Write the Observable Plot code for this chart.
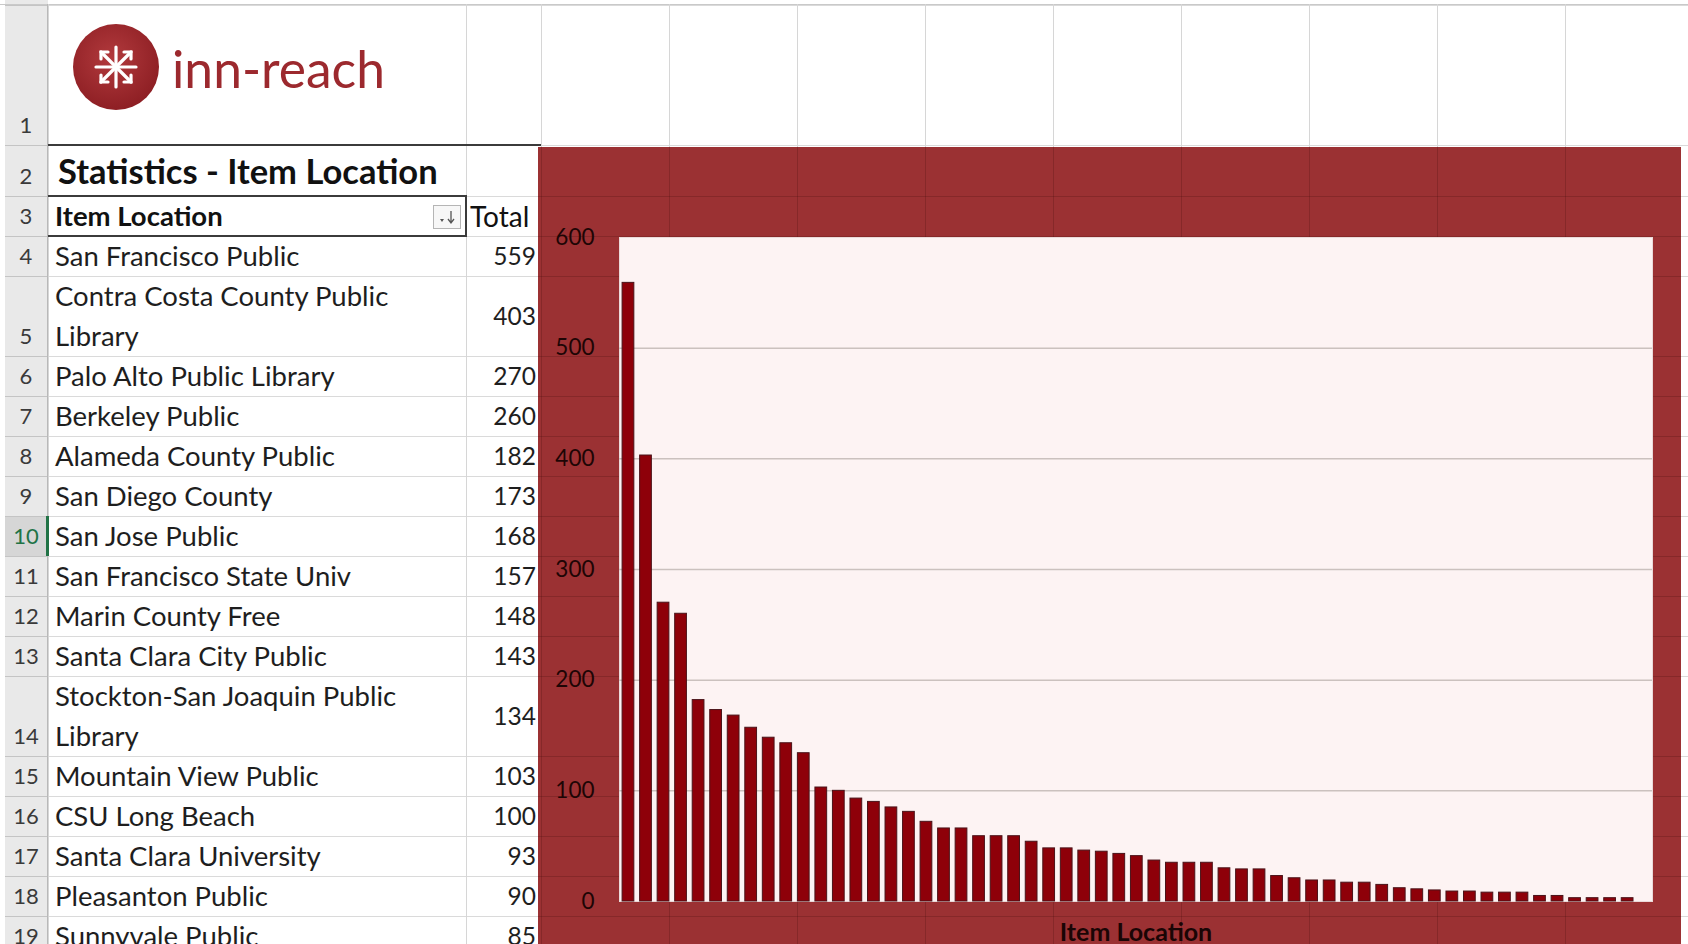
<!DOCTYPE html>
<html>
<head>
<meta charset="utf-8">
<script src="https://cdn.jsdelivr.net/npm/d3@7"></script>
<script src="https://cdn.jsdelivr.net/npm/@observablehq/plot@0.6"></script>
<style>
  html, body { margin: 0; padding: 0; background: #fff; width: 1688px; height: 944px; overflow: hidden; }
  body { position: relative; font-family: Lato, "Open Sans", sans-serif; }
  .abs { position: absolute; box-sizing: border-box; }
  .cell { position: absolute; box-sizing: border-box; display: flex; align-items: center; color: #1e1e1e; font-size: 27.5px; line-height: 40px; }
  .rownum { position: absolute; box-sizing: border-box; display: flex; align-items: flex-end; justify-content: center; color: #3a3a3a; font-size: 22px; padding-bottom: 7px; }
  #chart { position: absolute; left: 538px; top: 147px; width: 1143px; height: 797px; background: #9b3133; overflow: hidden; }
  #chart svg { position: absolute; left: 0; top: 0; }
</style>
</head>
<body>
<div id="sheet"></div>
<div id="chart"></div>
<script>
// ---------------- data ----------------
const sheetTitle = "Statistics - Item Location";
const headerName = "Item Location";
const headerTotal = "Total";
const xTitle = "Item Location";
const logoText = "inn-reach";
const locations = [
  "San Francisco Public",
  "Contra Costa County Public Library",
  "Palo Alto Public Library",
  "Berkeley Public",
  "Alameda County Public",
  "San Diego County",
  "San Jose Public",
  "San Francisco State Univ",
  "Marin County Free",
  "Santa Clara City Public",
  "Stockton-San Joaquin Public Library",
  "Mountain View Public",
  "CSU Long Beach",
  "Santa Clara University",
  "Pleasanton Public",
  "Sunnyvale Public"
];
const totals = [
  559, 403, 270, 260, 182, 173, 168, 157, 148, 143,
  134, 103, 100, 93, 90, 85, 81, 72, 66, 66,
  59, 59, 59, 54, 48, 48, 46, 45, 43, 41,
  37, 35, 35, 35, 30, 29, 29, 23, 21, 19,
  19, 17, 17, 15, 12, 11, 10, 9, 9, 8,
  8, 8, 5, 5, 3, 3, 3, 3
];
const ranks = totals.map((d, i) => i + 1);
const yTicks = [0, 100, 200, 300, 400, 500, 600];
const rowNumbers = [1,2,3,4,5,6,7,8,9,10,11,12,13,14,15,16,17,18,19];

// ---------------- sheet layout ----------------
const sheet = document.getElementById("sheet");
function add(parent, cls, style, text) {
  const e = document.createElement("div");
  e.className = cls;
  Object.assign(e.style, style);
  if (text != null) e.textContent = text;
  parent.appendChild(e);
  return e;
}
const rowHeights = [140, 51, 40, 40, 80, 40, 40, 40, 40, 40, 40, 40, 40, 80, 40, 40, 40, 40, 40];
const rowTops = [];
{ let y = 5; for (const h of rowHeights) { rowTops.push(y); y += h; } rowTops.push(y); }
const colX = [5, 48, 466, 541, 669, 797, 925, 1053, 1181, 1309, 1437, 1565, 1693];

// row header background
add(sheet, "abs", {left: "5px", top: "0px", width: "43px", height: "944px", background: "#e9e9e9"});
add(sheet, "abs", {left: "5px", top: rowTops[9] + "px", width: "43px", height: rowHeights[9] + "px", background: "#d6d6d6"});
// gridlines
add(sheet, "abs", {left: "0px", top: "4px", width: "1688px", height: "1px", background: "#c9c9c9"});
rowTops.forEach(y => {
  add(sheet, "abs", {left: "5px", top: y + "px", width: "43px", height: "1px", background: "#c4c4c4"});
  add(sheet, "abs", {left: "48px", top: y + "px", width: "1640px", height: "1px", background: "#dadada"});
});
colX.slice(1).forEach(x => {
  add(sheet, "abs", {left: x + "px", top: "4px", width: "1px", height: "940px", background: "#d6d6d6"});
});
add(sheet, "abs", {left: "47px", top: "4px", width: "1px", height: "940px", background: "#b8b8b8"});
add(sheet, "abs", {left: "46px", top: rowTops[9] + "px", width: "3px", height: rowHeights[9] + "px", background: "#217346"});

// row numbers
rowNumbers.forEach((n, i) => {
  const r = add(sheet, "rownum", {left: "5px", top: rowTops[i] + "px", width: "42px", height: rowHeights[i] + "px"}, String(n));
  if (n === 10) r.style.color = "#217346";
});

// title row
add(sheet, "cell", {left: "58px", top: rowTops[1] + "px", width: "480px", height: rowHeights[1] + "px", fontWeight: "bold", fontSize: "34.5px", color: "#111"}, sheetTitle);
// header row
add(sheet, "cell", {left: "55px", top: rowTops[2] + "px", width: "370px", height: rowHeights[2] + "px", fontWeight: "bold", fontSize: "27.5px", color: "#111"}, headerName);
add(sheet, "cell", {left: "470px", top: rowTops[2] + "px", width: "72px", height: rowHeights[2] + "px", fontSize: "28px", color: "#111"}, headerTotal);
// filter button
const fb = add(sheet, "abs", {left: "433px", top: "205px", width: "28px", height: "24px", background: "#f7f7f7", border: "1px solid #b5b5b5"});
fb.innerHTML = '<svg width="26" height="22"><path d="M6 13 L10 13 L8 16 Z" fill="#555"/><path d="M17 5 L17 16 M14 13 L17 17 L20 13" stroke="#555" stroke-width="1.3" fill="none"/></svg>';

// table borders
add(sheet, "abs", {left: "48px", top: "144px", width: "493px", height: "2px", background: "#3b3b3b"});
add(sheet, "abs", {left: "48px", top: "195px", width: "419px", height: "2px", background: "#3b3b3b"});
add(sheet, "abs", {left: "48px", top: "235px", width: "419px", height: "2px", background: "#3b3b3b"});
add(sheet, "abs", {left: "465px", top: "195px", width: "2px", height: "42px", background: "#3b3b3b"});

// data rows
locations.forEach((name, i) => {
  const r = i + 3;
  add(sheet, "cell", {left: "55px", top: rowTops[r] + "px", width: "405px", height: rowHeights[r] + "px", whiteSpace: "normal"}, name);
  add(sheet, "cell", {left: "466px", top: rowTops[r] + "px", width: "70px", height: rowHeights[r] + "px", justifyContent: "flex-end", fontSize: "24.5px"}, String(totals[i]));
});

// logo
const logo = add(sheet, "abs", {left: "60px", top: "15px", width: "360px", height: "110px"});
logo.innerHTML = `
<svg width="360" height="110">
  <defs>
    <radialGradient id="lg" cx="45%" cy="40%" r="60%">
      <stop offset="0%" stop-color="#b23a3d"/>
      <stop offset="100%" stop-color="#8e1f24"/>
    </radialGradient>
  </defs>
  <circle cx="56" cy="52" r="43" fill="url(#lg)"/>
  <g stroke="#fff" stroke-width="3.2" stroke-linecap="round" fill="none" transform="translate(56,52)">
    <line x1="-20" y1="0" x2="20" y2="0"/>
    <line x1="0" y1="-20" x2="0" y2="20"/>
    <line x1="-15" y1="-15" x2="15" y2="15"/>
    <line x1="-15" y1="15" x2="15" y2="-15"/>
    <path d="M-15 -8 L-15 -15 L-8 -15"/>
    <path d="M15 8 L15 15 L8 15"/>
    <path d="M-15 8 L-15 15 L-8 15"/>
    <path d="M15 -8 L15 -15 L8 -15"/>
  </g>
  <text x="112" y="73" font-family="Lato, sans-serif" font-size="52" fill="#9c292e" textLength="213" lengthAdjust="spacingAndGlyphs">${logoText}</text>
</svg>`;

// ---------------- chart ----------------
const chartDiv = document.getElementById("chart");
rowTops.forEach(y => {
  if (y > 147) add(chartDiv, "abs", {left: "0px", top: (y - 147) + "px", width: "1143px", height: "1px", background: "rgba(60,8,10,0.22)"});
});
colX.forEach(x => {
  if (x > 538 && x < 1681) add(chartDiv, "abs", {left: (x - 538) + "px", top: "0px", width: "1px", height: "797px", background: "rgba(60,8,10,0.22)"});
});

const chart = Plot.plot({
  width: 1143,
  height: 797,
  marginLeft: 81,
  marginRight: 29,
  marginTop: 90,
  marginBottom: 43,
  style: {background: "transparent", fontFamily: "Lato, sans-serif", fontSize: "22px", color: "#1e0505", overflow: "visible"},
  x: {type: "band", domain: ranks, paddingInner: 0.33, paddingOuter: 0.63, align: 0.14, axis: null},
  y: {domain: [0, 600], axis: null},
  marks: [
    Plot.frame({fill: "#fdf3f3", stroke: "#eadada"}),
    Plot.gridY(yTicks.filter(t => t > 0 && t < 600), {stroke: "#cbc1be", strokeOpacity: 1, strokeWidth: 1.5}),
    Plot.barY(totals, {x: (d, i) => ranks[i], y: d => d, fill: "#8e0009", stroke: "#4a1319", strokeWidth: 1}),
    Plot.axisY(yTicks, {tickSize: 0, tickPadding: 25, fontSize: 22.5, color: "#1e0505", label: null}),
    Plot.text([xTitle], {frameAnchor: "bottom", dy: 39, fontWeight: "bold", fontSize: 25, fill: "#1a0505"})
  ]
});
chartDiv.appendChild(chart);
</script>
</body>
</html>
